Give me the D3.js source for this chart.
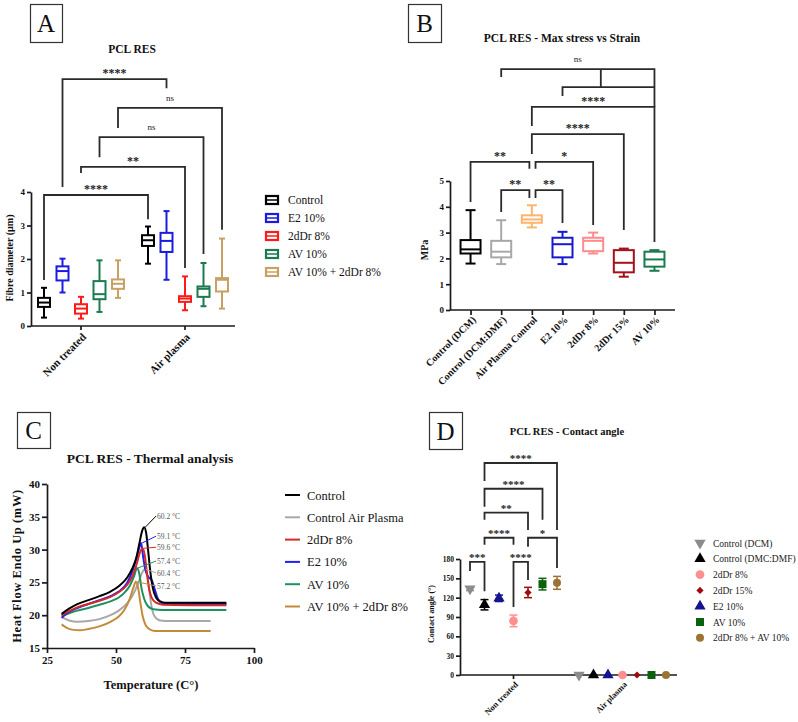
<!DOCTYPE html>
<html><head><meta charset="utf-8">
<script src="https://cdn.jsdelivr.net/npm/d3@7"></script>
<style>body{margin:0;background:#fff}svg{display:block}svg text{font-family:"Liberation Serif","Times New Roman",serif !important}</style>
</head><body><svg id="c" width="798" height="722"></svg>
<script>
// ================= DATA =================
// ---- Panel A: fibre diameter (µm), box stats [min, q1, median, q3, max]
const aGroups = ["Non treated", "Air plasma"];
const aSeries = ["Control", "E2 10%", "2dDr 8%", "AV 10%", "AV 10% + 2dDr 8%"];
const aNonTreated = [[0.25,0.57,0.70,0.84,1.14],[1.00,1.36,1.64,1.78,2.01],[0.22,0.37,0.52,0.65,0.87],[0.42,0.80,0.95,1.34,1.96],[0.84,1.11,1.26,1.39,1.96]];
const aAirPlasma  = [[1.86,2.39,2.56,2.71,2.97],[1.38,2.21,2.54,2.78,3.43],[0.47,0.72,0.82,0.89,1.48],[0.59,0.87,1.11,1.18,1.88],[0.52,1.03,1.38,1.43,2.61]];
const aYTicks = [0,1,2,3,4];
// significance brackets: series index compared across groups; level / leg ends in µm units
const aBrkSeries = [1,4,3,2,0];
const aBrkLevel  = [7.37,6.51,5.64,4.75,3.91];
const aBrkLeft   = [4.15,5.91,5.04,4.57,1.37];
const aBrkRight  = [7.10,2.87,2.15,1.73,3.19];
const aBrkLabel  = ["****","ns","ns","**","****"];

// ---- Panel B: max stress (MPa)
const bCategories = ["Control (DCM)","Control (DCM:DMF)","Air Plasma Control","E2 10%","2dDr 8%","2dDr 15%","AV 10%"];
const bStats = [[1.80,2.19,2.35,2.71,3.87],[1.78,2.04,2.26,2.68,3.48],[3.20,3.38,3.51,3.67,4.06],[1.78,2.04,2.55,2.80,3.03],[2.19,2.28,2.68,2.80,3.00],[1.29,1.46,1.83,2.32,2.38],[1.52,1.68,1.96,2.26,2.32]];
const bYTicks = [0,1,2,3,4,5];
// brackets (category positions, MPa levels)
const bBrkFrom  = [2,2,0,2.12,1,2.12];
const bBrkTo    = [6,5,1.92,4,1.92,3];
const bBrkLevel = [7.87,6.82,5.74,5.74,4.65,4.65];
const bBrkLeft  = [7.13,6.05,4.19,5.47,3.80,4.34];
const bBrkRight = [2.64,3.10,5.47,3.29,4.34,3.37];
const bBrkLabel = ["****","****","**","*","**","**"];
const bNs = {from:1, subFrom:3, subTo:6, mid:4.25, level:9.34, leftEnd:9.03, subLevel:8.64, subLeftEnd:8.29, label:"ns"};

// ---- Panel C: DSC curves [temperature °C, heat flow mW]
const cSeries = ["Control","Control Air Plasma","2dDr 8%","E2 10%","AV 10%","AV 10% + 2dDr 8%"];
const cControl = [[30.3,20.2],[33,21.0],[36,21.7],[40,22.3],[44,22.9],[48,23.6],[51,24.4],[54,25.7],[56,27.2],[57.5,29.0],[58.5,31.0],[59.5,32.9],[60.2,33.4],[60.9,32.6],[61.7,29.6],[62.5,26.4],[63.3,24.2],[64.5,22.7],[66,22.1],[68,21.9],[75,21.9],[90,21.9]];
const cControlAirPlasma = [[30.3,19.7],[33,19.2],[36,19.0],[40,19.1],[44,19.4],[48,20.0],[51,20.7],[54,21.8],[56,23.0],[58,24.8],[59.5,26.5],[60.4,27.0],[61.2,26.3],[62,24.0],[62.8,21.5],[64,19.8],[66,19.2],[70,19.1],[84.3,19.1]];
const c2dDr8 = [[30.3,20.0],[33,20.6],[36,21.2],[40,21.7],[44,22.2],[48,22.8],[51,23.5],[54,24.6],[56,26.0],[57.5,27.8],[58.7,29.6],[59.6,30.2],[60.4,29.2],[61.2,26.5],[62,24.0],[63,22.6],[64.5,21.9],[67,21.6],[90,21.5]];
const cE210 = [[30.3,19.6],[33,20.5],[36,21.1],[40,21.7],[44,22.3],[48,22.9],[51,23.6],[54,24.9],[56,26.8],[57.5,28.8],[58.5,30.4],[59.1,31.0],[59.8,29.0],[60.6,27.0],[61.6,25.9],[63,25.3],[64,24.0],[65.3,22.4],[67,21.8],[70,21.7],[90,21.7]];
const cAV10 = [[30.3,19.9],[33,20.3],[36,20.7],[40,21.1],[44,21.6],[48,22.1],[51,22.7],[53,23.4],[55,24.5],[56.6,26.0],[57.6,27.2],[58.4,26.4],[59.2,24.2],[60.2,22.5],[61.5,21.4],[63.5,20.9],[67,20.8],[90,20.8]];
const cAVmix = [[30.3,18.6],[32,18.1],[34,17.8],[37,17.7],[40,17.9],[44,18.3],[48,19.0],[51,19.8],[53,20.8],[55,22.5],[56.3,24.2],[57.2,25.1],[58,24.2],[58.8,22.0],[59.6,20.0],[60.6,18.6],[62,17.9],[64,17.6],[70,17.6],[84.3,17.6]];
const cXTicks = [25,50,75,100];
const cYTicks = [15,20,25,30,35,40];
const cPeakLabels = ["60.2 °C","59.1 °C","59.6 °C","57.4 °C","60.4 °C","57.2 °C"];
const cPeakSeries = [0,3,2,4,1,5];
const cPeakLabelT = [64.9,64.9,64.9,64.9,64.9,64.9];
const cPeakLabelV = [34.66,31.6,29.9,27.8,26.0,24.0];

// ---- Panel D: contact angle (°), mean ± SD
const dGroups = ["Non treated","Air plasma"];
const dSeries = ["Control (DCM)","Control (DMC:DMF)","E2 10%","2dDr 8%","2dDr 15%","AV 10%","2dDr 8% + AV 10%"];
const dLegendOrder = ["Control (DCM)","Control (DMC:DMF)","2dDr 8%","2dDr 15%","E2 10%","AV 10%","2dDr 8% + AV 10%"];
const dNonTreatedMean = [134,109,119,84,128,141,143];
const dNonTreatedSD   = [3,8,5,9,8,9,10];
const dAirPlasmaMean  = [0,0,0,0,0,0,0];
const dAirPlasmaSD    = [0,0,0,0,0,0,0];
const dYTicks = [0,30,60,90,120,150,180];
const dBrkFrom  = [1,1,1,1,4,0,3];
const dBrkTo    = [6,5,4,3,6,1,4];
const dBrkLevel = [329,289,252,213,213,175.5,175.5];
const dBrkLeft  = [301,261,241,202,199,161.5,105.6];
const dBrkRight = [225,241,225,202,166,130,147.5];
const dBrkLabel = ["****","****","**","****","*","***","****"];

// ================= DRAW =================
const FONT = '"Liberation Serif","Times New Roman",serif';
const svg = d3.select("#c");
svg.append("rect").attr("width",798).attr("height",722).attr("fill","#fff");
const INK = "#1a1a1a";
const fmt = d3.format("d");

function letterBox(x,y,w,h,letter){
  svg.append("rect").attr("x",x+0.5).attr("y",y+0.5).attr("width",w).attr("height",h)
    .attr("fill","none").attr("stroke","#333").attr("stroke-width",1.2);
  svg.append("text").attr("x",x+w/2).attr("y",y+h/2+9).attr("text-anchor","middle")
    .style("font-family",FONT).attr("font-size",25).attr("fill","#111").text(letter);
}
function title(x,y,txt,fs){
  svg.append("text").attr("x",x).attr("y",y).attr("text-anchor","middle").style("font-family",FONT)
    .attr("font-weight","bold").attr("font-size",fs).attr("fill","#111").text(txt);
}
function styleAxis(g, fs){
  g.selectAll("path.domain").attr("stroke",INK).attr("stroke-width",1.7);
  g.selectAll(".tick line").attr("stroke",INK).attr("stroke-width",1.7);
  g.selectAll(".tick text").style("font-family",FONT).attr("font-weight","bold").attr("font-size",fs).attr("fill","#111");
}
function rotLabels(g, fs, dx, dy){
  g.selectAll(".tick text").attr("text-anchor","end").attr("font-size",fs)
    .attr("transform",`translate(${dx},${dy}) rotate(-45)`).attr("dy","0.35em").attr("y",0).attr("x",0);
}
function yLabel(x,y,txt,fs,ls){
  svg.append("text").attr("transform",`translate(${x},${y}) rotate(-90)`).attr("text-anchor","middle")
    .style("font-family",FONT).attr("font-weight","bold").attr("font-size",fs)
    .attr("letter-spacing",ls||0).attr("fill","#111").text(txt);
}
function bracket(x1,x2,yl,yL,yR,label,fs,starOff,nsOff){
  svg.append("path").attr("d",`M${x1},${yL}V${yl}H${x2}V${yR}`).attr("fill","none")
    .attr("stroke","#2a2a2a").attr("stroke-width",1.8);
  const isNs = label==="ns";
  svg.append("text").attr("x",(x1+x2)/2).attr("y",yl-(isNs?nsOff:starOff)).attr("text-anchor","middle")
    .style("font-family",FONT).attr("font-weight",isNs?"normal":"bold").attr("font-size",isNs?9:fs)
    .attr("fill","#222").text(label);
}
function drawBox(cx,s,y,color,w){
  const g = svg.append("g").attr("stroke",color).attr("stroke-width",2).attr("fill","none");
  g.append("line").attr("x1",cx).attr("x2",cx).attr("y1",y(s[0])).attr("y2",y(s[1]));
  g.append("line").attr("x1",cx).attr("x2",cx).attr("y1",y(s[3])).attr("y2",y(s[4]));
  g.append("line").attr("x1",cx-w/4).attr("x2",cx+w/4).attr("y1",y(s[0])).attr("y2",y(s[0]));
  g.append("line").attr("x1",cx-w/4).attr("x2",cx+w/4).attr("y1",y(s[4])).attr("y2",y(s[4]));
  g.append("rect").attr("x",cx-w/2).attr("y",y(s[3])).attr("width",w).attr("height",y(s[1])-y(s[3])).attr("fill","#fff");
  g.append("line").attr("x1",cx-w/2).attr("x2",cx+w/2).attr("y1",y(s[2])).attr("y2",y(s[2]));
}

// ---------- Panel A ----------
letterBox(30,4,32,38,"A");
title(132,53,"PCL RES",11.5);
const aCol = ["#000000","#1c1ce0","#ff1a1a","#1b7a4e","#c9a063"];
const aY = d3.scaleLinear().domain([0,4]).range([326,192]);
const aX0 = d3.scaleBand().domain(aGroups).range([29,237]);
const aX1 = d3.scalePoint().domain(aSeries).range([-37,37]);
const aCx = (gi,si) => aX0(aGroups[gi]) + aX0.bandwidth()/2 + aX1(aSeries[si]);
const aData = [aNonTreated, aAirPlasma];
aData.forEach((grp,gi)=>grp.forEach((s,si)=>drawBox(aCx(gi,si),s,aY,aCol[si],12)));
const aYAx = svg.append("g").attr("transform","translate(31,0)")
  .call(d3.axisLeft(aY).tickValues(aYTicks).tickFormat(fmt).tickSize(4).tickSizeOuter(0).tickPadding(2));
styleAxis(aYAx,9);
const aXAx = svg.append("g").attr("transform","translate(0,326)")
  .call(d3.axisBottom(aX0).tickSize(4).tickSizeOuter(0));
styleAxis(aXAx,11);
aXAx.select(".domain").attr("d","M31,0H235");
rotLabels(aXAx,11,3,9);
yLabel(13,258,"Fibre diameter (µm)",10);
aBrkSeries.forEach((si,i)=>bracket(aCx(0,si),aCx(1,si),aY(aBrkLevel[i]),aY(aBrkLeft[i]),aY(aBrkRight[i]),aBrkLabel[i],12,2,7));
// legend A
aSeries.forEach((s,i)=>{
  const yy = 200 + i*18;
  svg.append("rect").attr("x",266).attr("y",yy-4).attr("width",12).attr("height",8).attr("fill","#fff").attr("stroke",aCol[i]).attr("stroke-width",2.2);
  svg.append("line").attr("x1",266).attr("x2",278).attr("y1",yy).attr("y2",yy).attr("stroke",aCol[i]).attr("stroke-width",1.5);
  svg.append("text").attr("x",288).attr("y",yy+4).style("font-family",FONT).attr("font-size",11.5).attr("fill","#111").text(s);
});

// ---------- Panel B ----------
letterBox(408,4,33,38,"B");
title(562,42,"PCL RES - Max stress vs Strain",11.5);
const bCol = ["#000000","#a8a8a8","#ffb46e","#1818d0","#ff8c8c","#a3121a","#1b7a4e"];
const bY = d3.scaleLinear().domain([0,5]).range([310,181]);
const bX = d3.scalePoint().domain(bCategories).range([450,675]).padding(0.67);
const bAt = i => bX(bCategories[0]) + i*bX.step();
bStats.forEach((s,i)=>drawBox(bX(bCategories[i]),s,bY,bCol[i],20));
const bYAx = svg.append("g").attr("transform","translate(450,0)")
  .call(d3.axisLeft(bY).tickValues(bYTicks).tickFormat(fmt).tickSize(4).tickSizeOuter(0).tickPadding(2));
styleAxis(bYAx,9);
const bXAx = svg.append("g").attr("transform","translate(0,310)")
  .call(d3.axisBottom(bX).tickSize(5).tickSizeOuter(0));
styleAxis(bXAx,10);
bXAx.select(".domain").attr("d","M450,0H675");
rotLabels(bXAx,10,3,8);
yLabel(428,250,"MPa",10);
bBrkFrom.forEach((f,i)=>bracket(bAt(f),bAt(bBrkTo[i]),bY(bBrkLevel[i]),bY(bBrkLeft[i]),bY(bBrkRight[i]),bBrkLabel[i],12,2,7));
// compound "ns" bracket
svg.append("path").attr("d",
  `M${bAt(bNs.from)},${bY(bNs.leftEnd)}V${bY(bNs.level)}H${bAt(bNs.subTo)}V${bY(bNs.subLevel)}` +
  `M${bAt(bNs.mid)},${bY(bNs.level)}V${bY(bNs.subLevel)}` +
  `M${bAt(bNs.subFrom)},${bY(bNs.subLeftEnd)}V${bY(bNs.subLevel)}H${bAt(bNs.subTo)}V${bY(bBrkLevel[0])}`)
  .attr("fill","none").attr("stroke","#2a2a2a").attr("stroke-width",1.8);
svg.append("text").attr("x",(bAt(bNs.from)+bAt(bNs.subTo))/2).attr("y",bY(bNs.level)-7).attr("text-anchor","middle")
  .style("font-family",FONT).attr("font-size",9).attr("fill","#222").text(bNs.label);

// ---------- Panel C ----------
letterBox(17,412,33,36,"C");
title(150,463,"PCL RES - Thermal analysis",13.5);
const cCol = ["#000000","#a8a8a8","#d42a2a","#2020f0","#1f9060","#c48a3a"];
const cData = [cControl,cControlAirPlasma,c2dDr8,cE210,cAV10,cAVmix];
const cX = d3.scaleLinear().domain([25,100]).range([47,254]);
const cY = d3.scaleLinear().domain([15,40]).range([648,484]);
const cLine = d3.line().x(d=>cX(d[0])).y(d=>cY(d[1])).curve(d3.curveMonotoneX);
[1,5,4,3,2,0].forEach(i=>{
  svg.append("path").datum(cData[i]).attr("d",cLine).attr("fill","none").attr("stroke",cCol[i]).attr("stroke-width",2);
});
cPeakSeries.forEach((si,i)=>{
  const pk = cData[si].reduce((a,b)=>b[1]>a[1]?b:a);
  const lx = cX(cPeakLabelT[i]), ly = cY(cPeakLabelV[i]);
  svg.append("line").attr("x1",cX(pk[0])+1).attr("y1",cY(pk[1])).attr("x2",lx-1).attr("y2",ly-3)
    .attr("stroke",cCol[si]).attr("stroke-width",1);
  svg.append("text").attr("x",lx).attr("y",ly).style("font-family",FONT).attr("font-size",7.5).attr("fill","#555").text(cPeakLabels[i]);
});
const cYAx = svg.append("g").attr("transform","translate(47,0)")
  .call(d3.axisLeft(cY).tickValues(cYTicks).tickFormat(fmt).tickSize(5).tickSizeOuter(0).tickPadding(2));
styleAxis(cYAx,11);
const cXAx = svg.append("g").attr("transform","translate(0,648)")
  .call(d3.axisBottom(cX).tickValues(cXTicks).tickFormat(fmt).tickSize(5).tickSizeOuter(0).tickPadding(3));
styleAxis(cXAx,11);
yLabel(21,566,"Heat Flow Endo Up (mW)",12.5,0.6);
svg.append("text").attr("x",151).attr("y",689).attr("text-anchor","middle").style("font-family",FONT)
  .attr("font-weight","bold").attr("font-size",12.5).attr("fill","#111").text("Temperature (C°)");
cSeries.forEach((s,i)=>{
  const yy = 495 + i*22.3;
  svg.append("line").attr("x1",285).attr("x2",300).attr("y1",yy).attr("y2",yy).attr("stroke",cCol[i]).attr("stroke-width",2);
  svg.append("text").attr("x",307).attr("y",yy+4.5).style("font-family",FONT).attr("font-size",12.5).attr("fill","#111").text(s);
});

// ---------- Panel D ----------
letterBox(429,412,33,37,"D");
title(567,435,"PCL RES - Contact angle",10.5);
const dCol = {"Control (DCM)":"#8c8c8c","Control (DMC:DMF)":"#000000","E2 10%":"#141490","2dDr 8%":"#ff8f8f","2dDr 15%":"#a00a0a","AV 10%":"#0c620c","2dDr 8% + AV 10%":"#9c7332"};
const tri = d3.symbol().type(d3.symbolTriangle).size(55)();
const dSym = {
  "Control (DCM)": {d:tri, rot:180},
  "Control (DMC:DMF)": {d:tri, rot:0},
  "E2 10%": {d:tri, rot:0},
  "2dDr 8%": {d:d3.symbol().type(d3.symbolCircle).size(60)(), rot:0},
  "2dDr 15%": {d:d3.symbol().type(d3.symbolSquare).size(26)(), rot:45},
  "AV 10%": {d:d3.symbol().type(d3.symbolSquare).size(64)(), rot:0},
  "2dDr 8% + AV 10%": {d:d3.symbol().type(d3.symbolCircle).size(50)(), rot:0}
};
const dY = d3.scaleLinear().domain([0,180]).range([675,559]);
const dX0 = d3.scaleBand().domain(dGroups).range([459,677]);
const dX1 = d3.scalePoint().domain(dSeries).range([-43.5,43.5]);
const dCx = (gi,si) => dX0(dGroups[gi]) + dX0.bandwidth()/2 + dX1(dSeries[si]);
const dM = [dNonTreatedMean,dAirPlasmaMean], dS = [dNonTreatedSD,dAirPlasmaSD];
dM.forEach((means,gi)=>means.forEach((m,si)=>{
  const cx = dCx(gi,si), c = dCol[dSeries[si]], sd = dS[gi][si];
  if(sd>0){
    const g = svg.append("g").attr("stroke",c).attr("stroke-width",1.5);
    g.append("line").attr("x1",cx).attr("x2",cx).attr("y1",dY(m-sd)).attr("y2",dY(m+sd));
    g.append("line").attr("x1",cx-4).attr("x2",cx+4).attr("y1",dY(m-sd)).attr("y2",dY(m-sd));
    g.append("line").attr("x1",cx-4).attr("x2",cx+4).attr("y1",dY(m+sd)).attr("y2",dY(m+sd));
  }
}));
const dYAx = svg.append("g").attr("transform","translate(460,0)")
  .call(d3.axisLeft(dY).tickValues(dYTicks).tickFormat(fmt).tickSize(4).tickSizeOuter(0).tickPadding(2));
styleAxis(dYAx,7.5);
const dXAx = svg.append("g").attr("transform","translate(0,675)")
  .call(d3.axisBottom(dX0).tickSize(4).tickSizeOuter(0));
styleAxis(dXAx,8.5);
dXAx.select(".domain").attr("d","M460,0H677");
rotLabels(dXAx,8.5,3,8);
dM.forEach((means,gi)=>means.forEach((m,si)=>{
  const sy = dSym[dSeries[si]];
  svg.append("path").attr("d",sy.d).attr("fill",dCol[dSeries[si]])
    .attr("transform",`translate(${dCx(gi,si)},${dY(m)}) rotate(${sy.rot})`);
}));
yLabel(434,614,"Contact angle (°)",8);
dBrkFrom.forEach((f,i)=>bracket(dCx(0,f),dCx(0,dBrkTo[i]),dY(dBrkLevel[i]),dY(dBrkLeft[i]),dY(dBrkRight[i]),dBrkLabel[i],11,1,6));
dLegendOrder.forEach((s,i)=>{
  const yy = 543 + i*15.8;
  const sy = dSym[s];
  svg.append("path").attr("d",sy.d).attr("fill",dCol[s]).attr("transform",`translate(700,${yy}) rotate(${sy.rot})`);
  svg.append("text").attr("x",713).attr("y",yy+3.5).style("font-family",FONT).attr("font-size",9.5).attr("fill","#222").text(s);
});
</script></body></html>
